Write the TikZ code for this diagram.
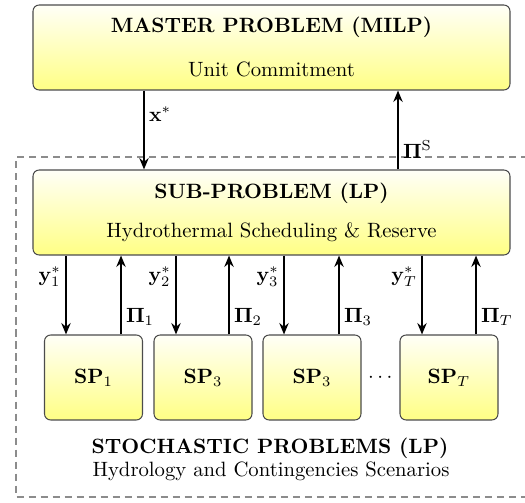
\documentclass[tikz,border=0pt]{standalone}
\usepackage{amsmath,amssymb}
\usetikzlibrary{arrows.meta,positioning}
\begin{document}
\begin{tikzpicture}[x=0.483pt,y=-0.483pt,
  box/.style={draw=black!70,line width=0.5pt,rounded corners=3pt,top color=yellow!3,bottom color=yellow!48,inner sep=0pt},
  flow/.style={line width=0.9pt,-{Stealth[length=5.5pt,width=4.5pt]}},
  lbl/.style={inner sep=1pt}]
\useasboundingbox (0,0) rectangle (525,503);
% dashed frame
\draw[black!45,dash pattern=on 3.4pt off 2.4pt,line width=0.5pt] (540,157) -- (16,157) -- (16,497) -- (540,497);
% master
\node[box,minimum width=477*0.483pt,minimum height=85*0.483pt] (master) at (271.5,47.5) {};
\node (mt) at (271.5,27) {\textbf{MASTER PROBLEM (MILP)}};
\node (ms) at (271.5,69) {Unit Commitment};
% sub
\node[box,minimum width=477*0.483pt,minimum height=85*0.483pt] (sub) at (271.5,212.5) {};
\node (st) at (271.5,193) {\textbf{SUB-PROBLEM (LP)}};
\node (ss) at (271.5,232) {Hydrothermal Scheduling \& Reserve};
% SP boxes
\foreach \n/\cx/\t in {1/93.5/$\mathbf{SP}_1$,2/203/$\mathbf{SP}_3$,3/312/$\mathbf{SP}_3$,4/449/$\mathbf{SP}_T$}{
  \node[box,minimum width=98*0.483pt,minimum height=85*0.483pt] (sp\n) at (\cx,377.5) {\t};
}
\node (dots) at (382,378) {$\cdots$};
% master <-> sub
\draw[flow] (master.south -| 144,0) -- node[lbl,right=1pt,pos=0.3]{$\mathbf{x}^*$} (sub.north -| 144,0);
\draw[flow] (sub.north -| 398,0) -- node[lbl,right=1pt,pos=0.25]{$\mathbf{\Pi}^{\mathrm{S}}$} (master.south -| 398,0);
% sub <-> SPs
\foreach \n/\dx/\ux/\yl/\pl in {1/66/121/$\mathbf{y}_1^*$/$\mathbf{\Pi}_1$,2/176/229/$\mathbf{y}_2^*$/$\mathbf{\Pi}_2$,3/284/339/$\mathbf{y}_3^*$/$\mathbf{\Pi}_3$,4/422/476/$\mathbf{y}_T^*$/$\mathbf{\Pi}_T$}{
  \draw[flow] (sub.south -| \dx,0) -- node[lbl,left=1pt,pos=0.27]{\yl} (sp\n.north -| \dx,0);
  \draw[flow] (sp\n.north -| \ux,0) -- node[lbl,right=1pt,pos=0.22]{\pl} (sub.south -| \ux,0);
}
% caption
\node (stoch) at (270,448) {\textbf{STOCHASTIC PROBLEMS (LP)}};
\node (hyd) at (271,471) {Hydrology and Contingencies Scenarios};
\end{tikzpicture}
\end{document}
